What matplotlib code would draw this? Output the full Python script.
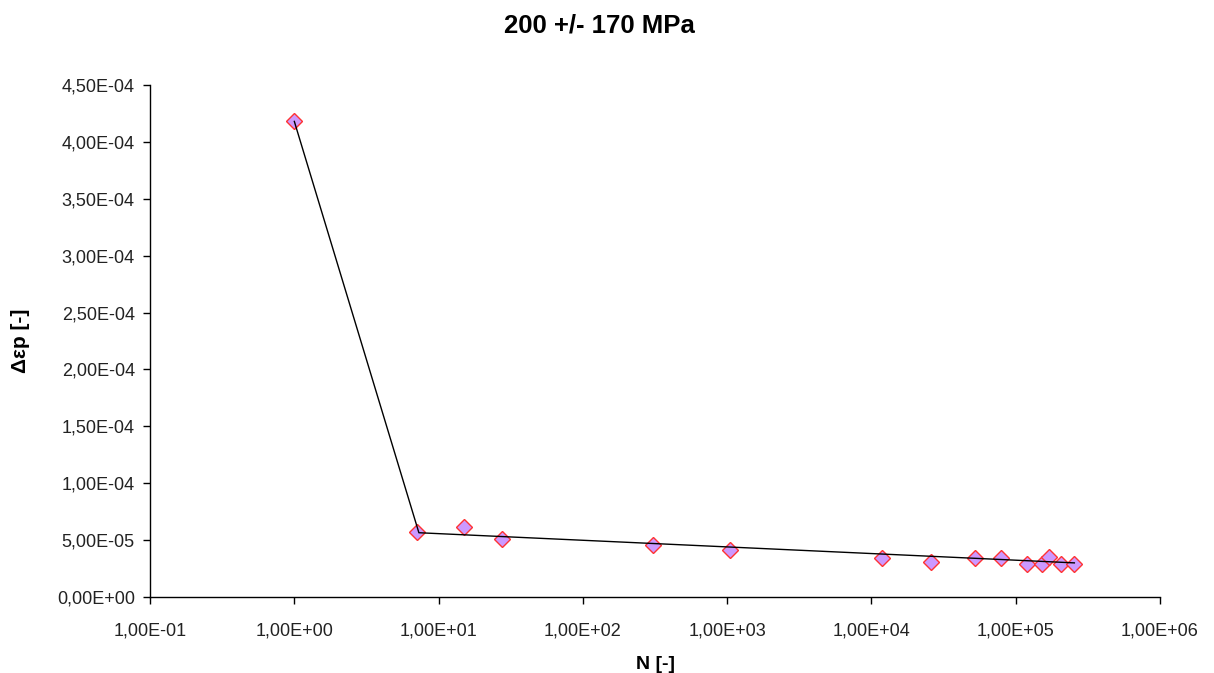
import numpy as np
import matplotlib.pyplot as plt
from matplotlib.ticker import FuncFormatter, FixedLocator, NullLocator

plt.rcParams['font.family'] = ['Liberation Sans', 'DejaVu Sans']

# measured points
n_cycles = [1, 7.05, 15.1, 27.6, 304, 1045, 11800, 25900, 52400, 78500,
            119600, 153000, 169000, 205000, 254000]
d_eps_p = [4.18e-4, 5.74e-5, 6.12e-5, 5.1e-5, 4.57e-5, 4.13e-5, 3.4e-5, 3.05e-5,
           3.45e-5, 3.45e-5, 2.93e-5, 2.93e-5, 3.54e-5, 2.93e-5, 2.93e-5]

# fitted line (two segments)
fit_n = [1, 7.3, 2.55e5]
fit_eps = [4.18e-4, 5.65e-5, 3.0e-5]

x_ticks = [1e-1, 1e0, 1e1, 1e2, 1e3, 1e4, 1e5, 1e6]
y_ticks = np.arange(0, 4.51e-4, 0.5e-4)

fig = plt.figure(figsize=(12.14, 6.73), dpi=100)
ax = fig.add_axes([0.1236, 0.1129, 0.8319, 0.7608])

ax.plot(n_cycles, d_eps_p, linestyle='none', marker='D', ms=8,
        mfc='#CC99FF', mec='#FF3333', mew=1, zorder=2)
ax.plot(fit_n, fit_eps, color='black', lw=1, zorder=3)

ax.set_xscale('log')
ax.set_xlim(1e-1, 1e6)
ax.set_ylim(0, 4.5e-4)
ax.xaxis.set_major_locator(FixedLocator(x_ticks))
ax.xaxis.set_minor_locator(NullLocator())
ax.set_yticks(y_ticks)

fmt = FuncFormatter(lambda v, pos: f"{v:.2E}".replace('.', ','))
ax.xaxis.set_major_formatter(fmt)
ax.yaxis.set_major_formatter(fmt)

for s in ['top', 'right']:
    ax.spines[s].set_visible(False)
for s in ['left', 'bottom']:
    ax.spines[s].set_linewidth(1)
ax.tick_params(direction='out', length=5, width=1, labelsize=13, colors='black')
ax.tick_params(axis='both', labelcolor='#222222')
ax.tick_params(axis='y', pad=6)
ax.tick_params(axis='x', pad=13)

ax.set_xlabel('N [-]', fontsize=14, fontweight='bold', labelpad=12)
ax.set_ylabel('Δεp [-]', fontsize=15, fontweight='bold', labelpad=19)
fig.suptitle('200 +/- 170 MPa', x=0.494, y=0.98, fontsize=18.5, fontweight='bold')

fig.savefig('out.png', dpi=100)
